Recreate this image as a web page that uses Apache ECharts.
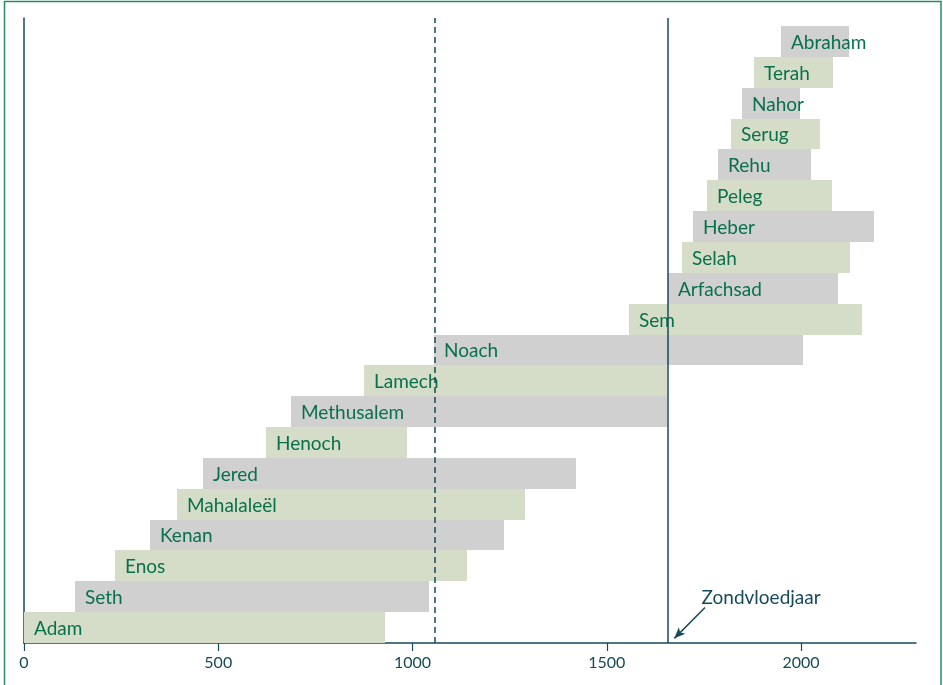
<!DOCTYPE html>
<html>
<head>
<meta charset="utf-8">
<script src="https://cdn.jsdelivr.net/npm/echarts@6/dist/echarts.min.js"></script>
<style>
html,body{margin:0;padding:0;background:#fff;}
#chart{width:943px;height:685px;}
</style>
</head>
<body>
<div id="chart"></div>
<script>
// Patriarchs, bottom to top
const names = ['Adam','Seth','Enos','Kenan','Mahalaleël','Jered','Henoch','Methusalem','Lamech','Noach',
  'Sem','Arfachsad','Selah','Heber','Peleg','Rehu','Serug','Nahor','Terah','Abraham'];
const birthYears = [0,130,235,325,395,460,622,687,874,1056,1558,1658,1693,1723,1757,1787,1819,1849,1878,1948];
const deathYears = [930,1042,1140,1235,1290,1422,987,1656,1656,2006,2158,2096,2126,2187,2079,2026,2049,1997,2083,2123];
const tickValues = [0,500,1000,1500,2000];
const noahBirthYear = 1056;
const floodYear = 1656;
const floodLabel = 'Zondvloedjaar';

const TEAL = '#174a59';
const TEXT_GREEN = '#08704a';
const BAR_GREEN = '#d5ddc8';
const BAR_GRAY = '#d0d0d0';
const YMAX = 20.26;

const data = names.map((n, i) => [birthYears[i], deathYears[i], i, n]);

const chart = echarts.init(document.getElementById('chart'), null, {renderer: 'canvas'});
chart.setOption({
  animation: false,
  backgroundColor: '#fff',
  textStyle: {fontFamily: 'Lato'},
  graphic: [{
    type: 'rect',
    shape: {x: 4.5, y: 1.5, width: 936.5, height: 700},
    style: {fill: 'none', stroke: '#2a8a68', lineWidth: 1.5},
    silent: true
  }],
  grid: {left: 24, right: 27, top: 18, bottom: 42},
  xAxis: {
    type: 'value', min: 0, max: 2296,
    axisLine: {show: true, onZero: false, lineStyle: {color: TEAL, width: 1.5}},
    axisTick: {show: true, length: 8, customValues: tickValues, lineStyle: {color: TEAL, width: 1.2}},
    axisLabel: {customValues: tickValues, color: TEAL, fontSize: 16, fontFamily: 'Lato', margin: 12,
      formatter: function (v) { return String(v); }},
    splitLine: {show: false}
  },
  yAxis: {
    type: 'value', min: 0, max: YMAX,
    axisLine: {show: true, lineStyle: {color: TEAL, width: 1.5}},
    axisTick: {show: false},
    axisLabel: {show: false},
    splitLine: {show: false}
  },
  series: [{
    type: 'custom',
    data: data,
    encode: {x: [0, 1], y: 2},
    renderItem: function (params, api) {
      const s = api.value(0), e = api.value(1), idx = api.value(2);
      const p0 = api.coord([s, idx + 1]);
      const p1 = api.coord([e, idx]);
      const x0 = Math.round(p0[0]), x1 = Math.round(p1[0]);
      const y0 = Math.round(p0[1]), y1 = Math.round(p1[1]);
      return {
        type: 'group',
        children: [{
          type: 'rect',
          shape: {x: x0, y: y0, width: x1 - x0, height: y1 - y0},
          style: {fill: idx % 2 === 0 ? BAR_GREEN : BAR_GRAY}
        }, {
          type: 'text',
          style: {
            x: x0 + 10, y: (y0 + y1) / 2 + 1,
            text: names[idx],
            fill: TEXT_GREEN,
            font: '19px Lato',
            verticalAlign: 'middle', align: 'left'
          }
        }]
      };
    },
    z: 2,
    markLine: {
      silent: true,
      symbol: ['none', 'none'],
      label: {show: false},
      z: 5,
      data: [
        [{coord: [noahBirthYear, 0], lineStyle: {color: TEAL, width: 1.5, type: [6, 4]}},
         {coord: [noahBirthYear, YMAX]}],
        [{coord: [floodYear, 0], lineStyle: {color: TEAL, width: 1.5, type: 'solid'}},
         {coord: [floodYear, YMAX]}],
        [{coord: [1753, 1.15], symbol: 'none', lineStyle: {color: TEAL, width: 1.5, type: 'solid'}},
         {coord: [1674, 0.15], symbol: 'arrow', symbolSize: [7, 11]}]
      ]
    },
    markPoint: {
      silent: true,
      symbol: 'circle', symbolSize: 0,
      label: {show: true, position: 'right', distance: 0, color: TEAL, fontSize: 19, fontFamily: 'Lato',
        formatter: floodLabel},
      data: [{coord: [1744, 1.45]}]
    }
  }]
});
</script>
</body>
</html>
